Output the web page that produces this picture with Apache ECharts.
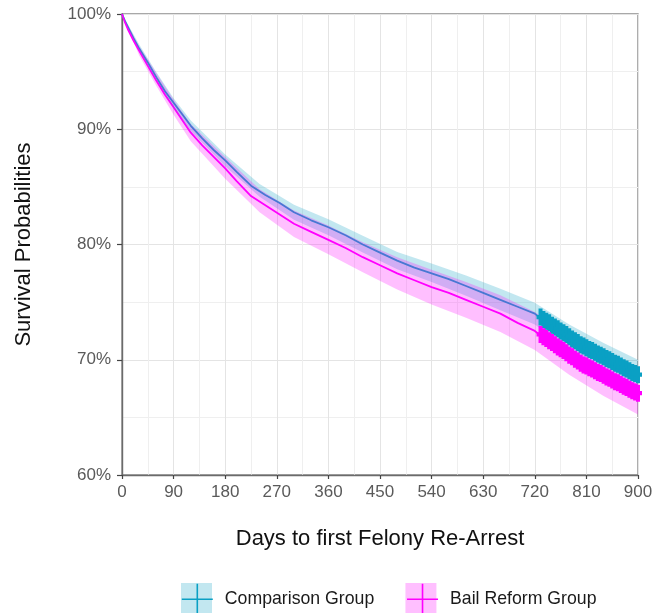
<!DOCTYPE html>
<html>
<head>
<meta charset="utf-8">
<title>Survival Probabilities</title>
<script src="https://cdn.jsdelivr.net/npm/echarts@6/dist/echarts.min.js"></script>
<style>
  html, body { margin: 0; padding: 0; background: #ffffff; }
  #chart { width: 667px; height: 613px; }
</style>
</head>
<body>
<div id="chart"></div>
<script>
// Kaplan-Meier estimates (survival, %) by days to first felony re-arrest
const dayPoints = [0, 5, 10, 20, 30, 45, 60, 75, 90, 105, 120, 140, 160, 180, 200, 225, 250, 275, 300,
  330, 360, 390, 420, 450, 480, 510, 540, 570, 600, 630, 660, 690, 720, 725];
const comparisonSurv = [100, 99.4, 98.9, 97.9, 97.0, 95.8, 94.5, 93.3, 92.3, 91.3, 90.3, 89.2, 88.2, 87.3,
  86.3, 85.1, 84.3, 83.6, 82.8, 82.1, 81.5, 80.8, 80.0, 79.3, 78.6, 78.0, 77.5, 77.0, 76.4, 75.8, 75.2,
  74.6, 74.0, 73.8];
const bailSurv = [100, 99.3, 98.7, 97.7, 96.8, 95.5, 94.2, 93.0, 91.9, 90.8, 89.7, 88.6, 87.6, 86.6,
  85.5, 84.2, 83.4, 82.6, 81.8, 81.1, 80.4, 79.7, 78.9, 78.2, 77.5, 76.9, 76.3, 75.8, 75.2, 74.6, 74.0,
  73.2, 72.5, 72.3];

// Censored observations (end of follow-up window)
const censorDays = [730, 735, 740, 745, 750, 755, 760, 765, 770, 775, 780, 785, 790, 795, 800, 805, 810,
  815, 820, 825, 830, 835, 840, 845, 850, 855, 860, 865, 870, 875, 880, 885, 890, 895, 900];
const comparisonCensor = [73.7, 73.5, 73.35, 73.2, 73.0, 72.85, 72.7, 72.5, 72.35, 72.2, 72.0, 71.8,
  71.65, 71.5, 71.3, 71.2, 71.05, 70.9, 70.8, 70.65, 70.5, 70.4, 70.25, 70.1, 70.0, 69.85, 69.7, 69.6,
  69.45, 69.3, 69.2, 69.05, 68.9, 68.8, 68.7];
const bailCensor = [72.2, 72.0, 71.85, 71.65, 71.5, 71.3, 71.1, 70.95, 70.8, 70.6, 70.4, 70.25, 70.05,
  69.9, 69.7, 69.55, 69.45, 69.3, 69.2, 69.05, 68.9, 68.8, 68.65, 68.5, 68.4, 68.25, 68.1, 68.0, 67.85,
  67.7, 67.6, 67.45, 67.3, 67.2, 67.1];

// 95% confidence bands
const bandDays = [0, 30, 60, 90, 120, 180, 240, 300, 360, 420, 480, 540, 600, 660, 720, 780, 840, 900];
const comparisonUpper = [100, 97.35, 94.95, 92.7, 90.75, 87.8, 85.25, 83.45, 82.2, 80.75, 79.35, 78.35,
  77.3, 76.15, 74.95, 73.05, 71.45, 70.0];
const comparisonLower = [100, 96.85, 94.25, 91.9, 89.85, 86.8, 84.15, 82.15, 80.8, 79.3, 77.85, 76.75,
  75.55, 74.3, 73.05, 70.95, 69.15, 67.4];
const bailUpper = [100, 97.2, 94.85, 92.55, 90.45, 87.6, 84.8, 82.95, 81.65, 80.2, 78.9, 77.8, 76.75,
  75.6, 74.15, 72.1, 70.35, 68.95];
const bailLower = [100, 96.4, 93.75, 91.25, 88.95, 85.7, 82.8, 80.65, 79.15, 77.6, 76.1, 74.8, 73.65,
  72.4, 70.85, 68.7, 66.85, 65.25];

const groupNames = ['Comparison Group', 'Bail Reform Group'];
const CYAN = '#0AA0C4';
const MAGENTA = '#FF00FF';
const FONT = '"Liberation Sans", Arial, Helvetica, sans-serif';

const pairs = (xs, ys) => xs.map((x, i) => [x, ys[i]]);
const curve = (early, censor) => pairs(dayPoints.concat(censorDays), early.concat(censor));

// One filled polygon per band: upper edge left to right, lower edge back
function bandSeries(name, upper, lower, color) {
  return {
    type: 'custom',
    name: name,
    silent: true,
    z: 3,
    data: bandDays.map((d, i) => [d, upper[i], lower[i]]),
    encode: { x: 0, y: [1, 2] },
    renderItem: function (params, api) {
      if (params.dataIndex !== 0) return null;
      const pts = [];
      for (let i = 0; i < bandDays.length; i++) pts.push(api.coord([bandDays[i], upper[i]]));
      for (let i = bandDays.length - 1; i >= 0; i--) pts.push(api.coord([bandDays[i], lower[i]]));
      return { type: 'polygon', shape: { points: pts }, style: { fill: color, opacity: 0.25 } };
    }
  };
}

// Filled "+" censor ticks; packed closely they merge into a solid strip
const CENSOR_MARK = 'path://M-2,-8H2V-2H4V2H2V8H-2V2H-4V-2H-2Z';
function censorSeries(name, vals, color) {
  return {
    type: 'scatter',
    name: name,
    silent: true,
    z: 4,
    symbol: CENSOR_MARK,
    symbolSize: [8, 17],
    itemStyle: { color: color, borderWidth: 0, opacity: 1 },
    data: pairs(censorDays, vals)
  };
}

function lineSeries(name, vals, censor, color) {
  return {
    type: 'line',
    name: name,
    silent: true,
    z: 2,
    showSymbol: false,
    symbol: 'none',
    lineStyle: { color: color, width: 1.8 },
    itemStyle: { color: color },
    data: curve(vals, censor)
  };
}

const chart = echarts.init(document.getElementById('chart'), null, { renderer: 'canvas' });

const legendBase = {
  orient: 'horizontal',
  left: 181,
  top: 583,
  padding: 0,
  itemWidth: 31,
  itemHeight: 36,
  itemGap: 32,
  selectedMode: false,
  textStyle: { fontFamily: FONT, fontSize: 17.7, padding: [0, 0, 0, 7] }
};

chart.setOption({
  animation: false,
  backgroundColor: '#ffffff',
  grid: {
    left: 122, right: 29, top: 14, bottom: 138,
    show: true, borderColor: '#8c8c8c', borderWidth: 1.4, backgroundColor: 'transparent'
  },
  xAxis: {
    type: 'value',
    min: 0, max: 900, interval: 90,
    name: 'Days to first Felony Re-Arrest',
    nameLocation: 'middle',
    nameGap: 53,
    nameTextStyle: { fontFamily: FONT, fontSize: 22, color: '#111111' },
    axisLine: { show: true, lineStyle: { color: '#6b6b6b', width: 1.4 } },
    axisTick: { show: true, length: 4, lineStyle: { color: '#444444', width: 1.2 } },
    axisLabel: { fontFamily: FONT, fontSize: 17, color: '#5a5a5a', margin: 9 },
    splitLine: { show: true, lineStyle: { color: '#e4e4e4', width: 1 } },
    minorTick: { show: false, splitNumber: 2 },
    minorSplitLine: { show: true, lineStyle: { color: '#efefef', width: 1 } }
  },
  yAxis: {
    type: 'value',
    min: 60, max: 100, interval: 10,
    name: 'Survival Probabilities',
    nameLocation: 'middle',
    nameGap: 87,
    nameTextStyle: { fontFamily: FONT, fontSize: 22, color: '#111111' },
    axisLine: { show: true, lineStyle: { color: '#6b6b6b', width: 1.4 } },
    axisTick: { show: true, length: 5, lineStyle: { color: '#444444', width: 1.2 } },
    axisLabel: { fontFamily: FONT, fontSize: 17, color: '#5a5a5a', margin: 11, formatter: '{value}%' },
    splitLine: { show: true, lineStyle: { color: '#e4e4e4', width: 1 } },
    minorTick: { show: false, splitNumber: 2 },
    minorSplitLine: { show: true, lineStyle: { color: '#efefef', width: 1 } }
  },
  legend: [
    Object.assign({}, legendBase, {
      z: 5,
      data: [
        { name: groupNames[0], icon: 'rect', itemStyle: { color: 'rgba(10,160,196,0.25)', borderWidth: 0 } },
        { name: groupNames[1], icon: 'rect', itemStyle: { color: 'rgba(255,0,255,0.25)', borderWidth: 0 } }
      ],
      textStyle: Object.assign({}, legendBase.textStyle, { color: 'rgba(0,0,0,0)' })
    }),
    Object.assign({}, legendBase, {
      z: 6,
      data: [
        { name: groupNames[0], icon: 'path://M15,0L15,30M0,15L30,15',
          itemStyle: { color: 'rgba(0,0,0,0)', borderColor: CYAN, borderWidth: 1.6 } },
        { name: groupNames[1], icon: 'path://M15,0L15,30M0,15L30,15',
          itemStyle: { color: 'rgba(0,0,0,0)', borderColor: MAGENTA, borderWidth: 1.6 } }
      ],
      textStyle: Object.assign({}, legendBase.textStyle, { color: '#1a1a1a' })
    })
  ],
  series: [
    lineSeries(groupNames[0], comparisonSurv, comparisonCensor, CYAN),
    lineSeries(groupNames[1], bailSurv, bailCensor, MAGENTA),
    bandSeries(groupNames[0], comparisonUpper, comparisonLower, CYAN),
    bandSeries(groupNames[1], bailUpper, bailLower, MAGENTA),
    censorSeries(groupNames[0], comparisonCensor, CYAN),
    censorSeries(groupNames[1], bailCensor, MAGENTA)
  ]
});
</script>
</body>
</html>
